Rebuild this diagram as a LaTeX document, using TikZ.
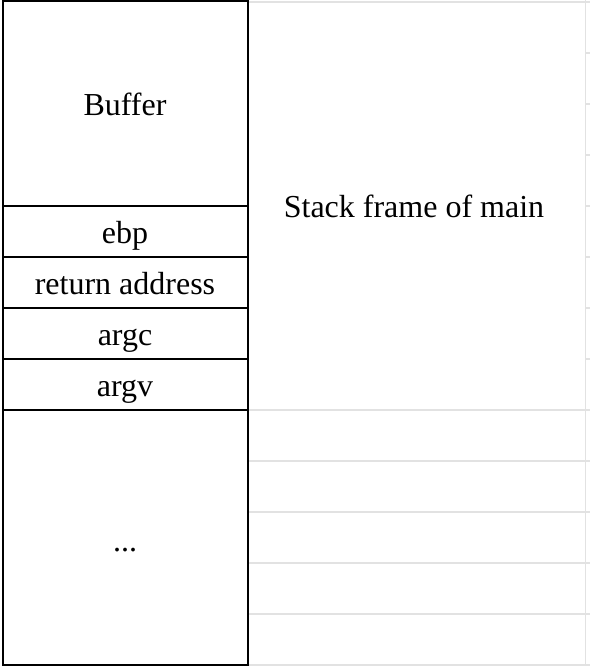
\documentclass[tikz,border=0pt]{standalone}
\usepackage{fontspec}
\setmainfont{Liberation Serif}
\definecolor{gridgray}{HTML}{E2E2E2}
\tikzset{
  blackline/.style={line width=2pt, black},
  grayline/.style={line width=1.6pt, gridgray},
  celltext/.style={anchor=base, inner sep=0pt, font=\fontsize{32}{38}\selectfont}
}
\begin{document}
\begin{tikzpicture}[x=1pt,y=-1pt]
\useasboundingbox (0,0) rectangle (590,666);
% spreadsheet-like gray grid
\draw[grayline] (248,2) -- (590,2);
\draw[grayline] (585.5,0) -- (585.5,666);
\foreach \y in {410,461,512,563,614,665}
  \draw[grayline] (248,\y) -- (590,\y);
\foreach \y in {53,104,155,206,257,308,359}
  \draw[grayline] (585.5,\y) -- (590,\y);
% stack column
\draw[blackline] (2.5,1.5) rectangle (247.5,665);
\foreach \y in {206,257,308,359,410}
  \draw[blackline] (2.5,\y) -- (247.5,\y);
% labels
\node[celltext] (buffer) at (125,116) {Buffer};
\node[celltext] (ebp) at (125,243.5) {ebp};
\node[celltext] (ret) at (125,294.5) {return address};
\node[celltext] (argc) at (125,345.5) {argc};
\node[celltext] (argv) at (125,396.5) {argv};
\node[celltext] (dots) at (125,551) {...};
\node[celltext] (frame) at (414,217.5) {Stack frame of main};
\end{tikzpicture}
\end{document}
